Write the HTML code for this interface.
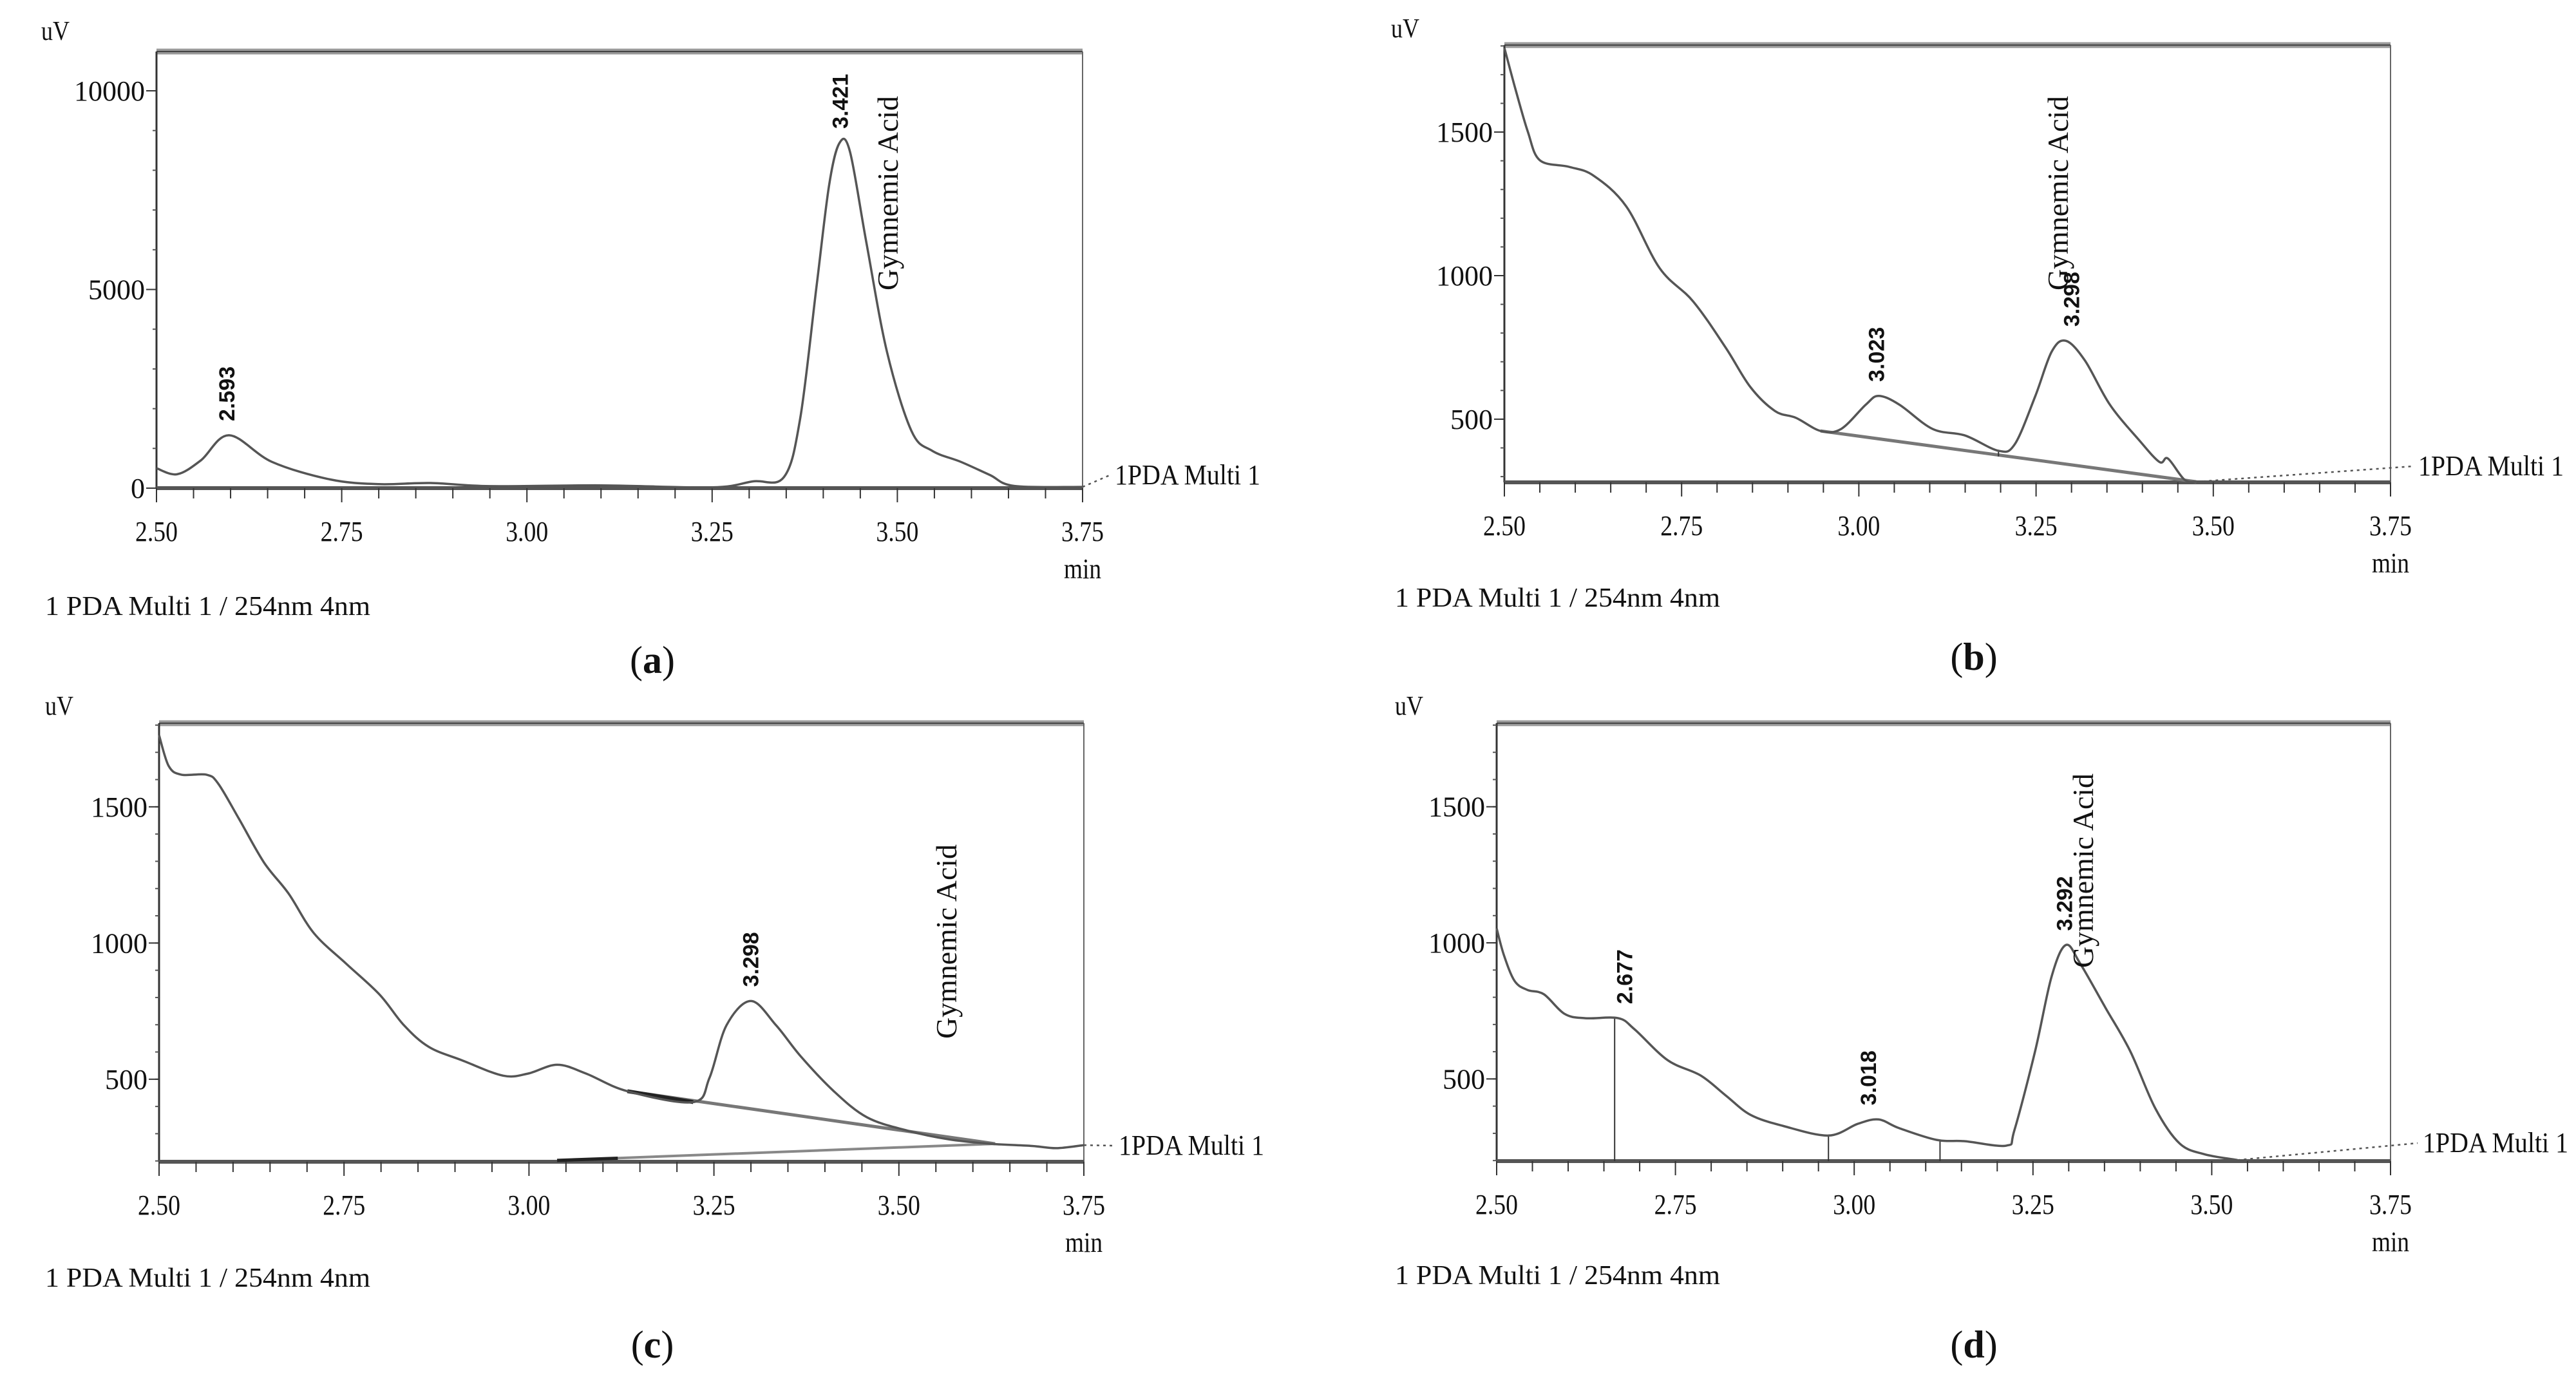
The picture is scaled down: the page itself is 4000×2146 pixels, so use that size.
<!DOCTYPE html>
<html><head><meta charset="utf-8"><style>
html,body{margin:0;padding:0;background:#fff;}
svg{display:block;}
text{font-family:"Liberation Serif",serif;fill:#111;}
.pk{font-family:"Liberation Sans",sans-serif;font-weight:bold;font-size:34px;}
</style></head><body>
<svg id="fig" width="4000" height="2146" viewBox="0 0 4000 2146" xmlns="http://www.w3.org/2000/svg"></svg>
<script>
// ---- data ----
const aTimes=[2.5,2.528,2.56,2.598,2.656,2.734,2.80,2.87,2.95,3.1,3.25,3.305,3.347,3.369,3.391,3.408,3.422,3.436,3.458,3.486,3.519,3.547,3.586,3.625,3.658,3.75];
const aValues=[500,350,700,1330,660,220,100,130,50,70,20,170,280,1770,5090,7640,8690,8470,6200,3430,1440,940,660,330,55,30];
const bTimes=[2.5,2.515,2.533,2.55,2.591,2.626,2.672,2.719,2.766,2.812,2.847,2.882,2.911,2.946,2.975,3.01,3.028,3.057,3.104,3.15,3.197,3.22,3.249,3.272,3.292,3.319,3.354,3.395,3.424,3.436,3.459,3.476];
const bValues=[1793,1655,1502,1402,1379,1348,1241,1026,911,750,612,528,505,459,466,551,581,551,466,443,390,413,581,735,773,704,551,428,351,363,290,282];
const cTimes=[2.5,2.513,2.53,2.564,2.58,2.608,2.642,2.675,2.709,2.753,2.798,2.831,2.865,2.91,2.965,2.999,3.038,3.077,3.133,3.222,3.244,3.267,3.3,3.334,3.367,3.412,3.457,3.512,3.568,3.624,3.68,3.713,3.75];
const cValues=[1763,1650,1618,1618,1585,1456,1295,1182,1037,924,811,698,618,569,513,521,553,521,456,416,505,698,787,698,585,456,360,311,279,263,255,247,258];
const dTimes=[2.5,2.51,2.525,2.543,2.566,2.595,2.624,2.67,2.693,2.739,2.785,2.82,2.855,2.901,2.964,3.005,3.034,3.063,3.115,3.155,3.213,3.224,3.253,3.276,3.296,3.316,3.351,3.386,3.421,3.455,3.49,3.536];
const dValues=[1053,956,860,827,811,739,723,723,682,569,513,440,368,327,292,335,351,319,276,271,255,311,602,876,992,924,763,602,392,263,223,202];
const xTicks=[2.50,2.75,3.00,3.25,3.50,3.75];
const xTickLabels=["2.50","2.75","3.00","3.25","3.50","3.75"];
const aYTicks=[0,5000,10000];
const bcdYTicks=[500,1000,1500];
const aPeaks=[2.593,3.421];
const bPeaks=[3.023,3.298];
const cPeaks=[3.298];
const dPeaks=[2.677,3.018,3.292];
const aPeakValues=[1330,8690];
const bPeakValues=[581,773];
const cPeakValues=[787];
const dPeakValues=[723,351,992];

const NS="http://www.w3.org/2000/svg";
const svg=document.getElementById('fig');
function el(tag,attrs,parent,txt){const e=document.createElementNS(NS,tag);for(const k in attrs)e.setAttribute(k,attrs[k]);if(txt!==undefined)e.textContent=txt;(parent||svg).appendChild(e);return e;}
function smooth(pts){let d='M'+pts[0][0].toFixed(1)+' '+pts[0][1].toFixed(1);
 for(let i=0;i<pts.length-1;i++){const p0=pts[Math.max(0,i-1)],p1=pts[i],p2=pts[i+1],p3=pts[Math.min(pts.length-1,i+2)];
  const c1=[p1[0]+(p2[0]-p0[0])/6,p1[1]+(p2[1]-p0[1])/6],c2=[p2[0]-(p3[0]-p1[0])/6,p2[1]-(p3[1]-p1[1])/6];
  d+=` C${c1[0].toFixed(1)} ${c1[1].toFixed(1)} ${c2[0].toFixed(1)} ${c2[1].toFixed(1)} ${p2[0].toFixed(1)} ${p2[1].toFixed(1)}`;}
 return d;}

const panels=[
 {id:'a',L:243,R:1681,T:80,B:758,vmin:0,vmax:10000*(758-80)/617,yt:aYTicks,yminor:1000,t:aTimes,v:aValues,pk:aPeaks,pv:aPeakValues,uv:[64,62],foot:[70,955],cap:[1013,1045],pda:[1731,752],ga:[1394,451]},
 {id:'b',L:2336,R:3712,T:70,B:749,vmin:280,vmax:1803,yt:bcdYTicks,yminor:100,t:bTimes,v:bValues,pk:bPeaks,pv:bPeakValues,uv:[2160,58],foot:[2166,942],cap:[3065,1040],pda:[3755,738],ga:[3211,451]},
 {id:'c',L:247,R:1683,T:1123,B:1804,vmin:197,vmax:1807,yt:bcdYTicks,yminor:100,t:cTimes,v:cValues,pk:cPeaks,pv:cPeakValues,uv:[70,1110],foot:[70,1998],cap:[1013,2108],pda:[1737,1793],ga:[1485,1613]},
 {id:'d',L:2324,R:3712,T:1123,B:1803,vmin:198,vmax:1807,yt:bcdYTicks,yminor:100,t:dTimes,v:dValues,pk:dPeaks,pv:dPeakValues,uv:[2166,1110],foot:[2166,1994],cap:[3065,2108],pda:[3762,1789],ga:[3250,1503]}
];

panels.forEach(p=>{
 const g=el('g',{});
 
 
 const X=t=>p.L+(t-2.5)/1.25*(p.R-p.L);
 const Y=v=>p.B-(v-p.vmin)/(p.vmax-p.vmin)*(p.B-p.T);
 const top=el('line',{x1:p.L,y1:p.T,x2:p.R,y2:p.T,stroke:'#999','stroke-width':9},g);
  
 el('line',{x1:p.L,y1:p.T,x2:p.R,y2:p.T,stroke:'#444','stroke-width':2},g);
 const rt=el('line',{x1:p.R,y1:p.T,x2:p.R,y2:p.B,stroke:'#666','stroke-width':2},g);
  
 const ya=el('line',{x1:p.L,y1:p.T,x2:p.L,y2:p.B,stroke:'#333','stroke-width':3},g);
  
 const xa=el('line',{x1:p.L,y1:p.B,x2:p.R,y2:p.B,stroke:'#555','stroke-width':6},g);
  
 for(let i=0;i<=25;i++){const t=2.5+i*0.05;const x=X(t);const major=i%5==0;
  el('line',{x1:x,y1:p.B,x2:x,y2:p.B+(major?22:16),stroke:'#333','stroke-width':2},g);}
 xTicks.forEach((t,i)=>{const tx=el('text',{x:X(t),y:p.B+82,'font-size':44,'text-anchor':'middle',textLength:66,lengthAdjust:'spacingAndGlyphs'},g,xTickLabels[i]);
   });
 const mn=el('text',{x:p.R,y:p.B+140,'font-size':44,'text-anchor':'middle',textLength:58,lengthAdjust:'spacingAndGlyphs'},g,'min');
  
 for(let v=Math.ceil(p.vmin/p.yminor)*p.yminor;v<=p.vmax;v+=p.yminor){const y=Y(v);
  el('line',{x1:p.L-6,y1:y,x2:p.L,y2:y,stroke:'#555','stroke-width':2},g);}
 p.yt.forEach(v=>{const y=Y(v);el('line',{x1:p.L-16,y1:y,x2:p.L,y2:y,stroke:'#333','stroke-width':2},g);
  const s=String(v);const ty=el('text',{x:p.L-18,y:y+15,'font-size':44,'text-anchor':'end',textLength:s.length*22,lengthAdjust:'spacingAndGlyphs'},g,s);
   });
 const uv=el('text',{x:p.uv[0],y:p.uv[1],'font-size':42,textLength:44,lengthAdjust:'spacingAndGlyphs'},g,'uV');
  
 if(p.id==='b'){
  el('line',{x1:X(2.946),y1:Y(459),x2:X(3.476),y2:Y(282),stroke:'#777','stroke-width':5},g);
  el('line',{x1:X(3.197),y1:Y(390),x2:X(3.197),y2:Y(370),stroke:'#333','stroke-width':2},g);
 }
 if(p.id==='c'){
  el('line',{x1:X(3.133),y1:Y(456),x2:X(3.63),y2:Y(263),stroke:'#777','stroke-width':5},g);
  el('line',{x1:X(3.133),y1:Y(456),x2:X(3.222),y2:Y(416),stroke:'#222','stroke-width':6},g);
  el('line',{x1:X(3.038),y1:Y(202),x2:X(3.63),y2:Y(263),stroke:'#888','stroke-width':4},g);
  el('line',{x1:X(3.038),y1:Y(202),x2:X(3.12),y2:Y(210),stroke:'#222','stroke-width':5},g);
 }
 if(p.id==='d'){
  [[2.665,723],[2.964,292],[3.12,276]].forEach(q=>el('line',{x1:X(q[0]),y1:Y(q[1]),x2:X(q[0]),y2:p.B,stroke:'#333','stroke-width':2},g));
 }
 const pts=p.t.map((t,i)=>[X(t),Y(p.v[i])]);
 const tr=el('path',{d:smooth(pts),fill:'none',stroke:'#555','stroke-width':3.5,'stroke-linejoin':'round'},g);
  
 const lt=p.t[p.t.length-1], lv=p.v[p.v.length-1];
 el('line',{x1:X(lt),y1:Y(lv),x2:p.pda[0]-8,y2:p.pda[1]-14,stroke:'#555','stroke-width':2.5,'stroke-dasharray':'4 6'},g);
 const pda=el('text',{x:p.pda[0],y:p.pda[1],'font-size':44,textLength:226,lengthAdjust:'spacingAndGlyphs'},g,'1PDA Multi 1');
  
 p.pk.forEach((t,i)=>{const x=X(t)+14,y=Y(p.pv[i])-22;
  const pl=el('text',{class:'pk',x:x,y:y,transform:`rotate(-90 ${x} ${y})`},g,t.toFixed(3));
   });
 const ga=el('text',{x:p.ga[0],y:p.ga[1],'font-size':46,textLength:302,lengthAdjust:'spacingAndGlyphs',transform:`rotate(-90 ${p.ga[0]} ${p.ga[1]})`},g,'Gymnemic Acid');
  
 const ft=el('text',{x:p.foot[0],y:p.foot[1],'font-size':42,textLength:505,lengthAdjust:'spacingAndGlyphs','xml:space':'preserve'},g,'1    PDA Multi 1 / 254nm 4nm');
  
 const cp=el('text',{x:p.cap[0],y:p.cap[1],'font-size':60,'text-anchor':'middle'},g);
  
 el('tspan',{},cp,'(');el('tspan',{'font-weight':'bold'},cp,p.id);el('tspan',{},cp,')');
});
</script>
</body></html>
